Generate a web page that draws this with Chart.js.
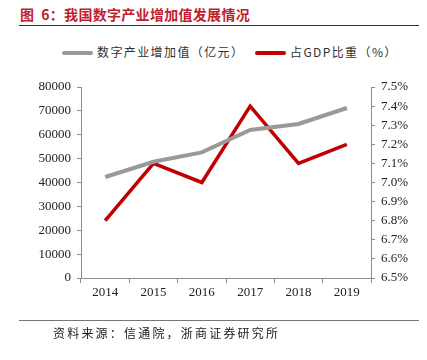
<!DOCTYPE html>
<html>
<head>
<meta charset="utf-8">
<script src="https://cdn.jsdelivr.net/npm/chart.js@4/dist/chart.umd.min.js"></script>
<style>
  html, body { margin: 0; padding: 0; background: #fff; }
  #wrap { position: relative; width: 427px; height: 360px; overflow: hidden; }
  #chart { position: absolute; left: 0; top: 0; }
  .title { position: absolute; left: 20px; top: 4px; font: bold 14px "Noto Sans CJK SC", sans-serif; color: #bf1e2e; letter-spacing: 0.3px; white-space: pre; }
  .rule { position: absolute; left: 19px; width: 400px; height: 1px; background: #333; }
  .rule.bottom { background: #777; }
  .source { position: absolute; left: 53px; top: 324px; font: 12px "Noto Sans CJK SC", sans-serif; color: #222; letter-spacing: 2.2px; }
  .legend { position: absolute; top: 43px; font: 12px "Noto Sans CJK SC", sans-serif; color: #333; letter-spacing: 1.4px; white-space: nowrap; }
  .legend i { display: inline-block; width: 31px; height: 4px; border-radius: 2px; vertical-align: middle; margin-right: 4px; position: relative; top: -1px; }
</style>
</head>
<body>
<div id="wrap">
  <div class="title">图  6：我国数字产业增加值发展情况</div>
  <div class="rule" style="top:25px"></div>
  <div class="legend" id="leg1" style="left:62px"><i></i><span></span></div>
  <div class="legend" id="leg2" style="left:255px"><i></i><span></span></div>
  <canvas id="chart" width="427" height="360"></canvas>
  <div class="rule bottom" style="top:320px"></div>
  <div class="source">资料来源：信通院，浙商证券研究所</div>
</div>
<script>
// chart data
const years = ['2014', '2015', '2016', '2017', '2018', '2019'];
const valueAdded = [42300, 48700, 52600, 62000, 64500, 71200];   // 数字产业增加值（亿元）
const gdpShare = [6.8, 7.1, 7.0, 7.4, 7.1, 7.2];                 // 占GDP比重（%）
const leftTicks = [0, 10000, 20000, 30000, 40000, 50000, 60000, 70000, 80000];
const rightTicks = [6.5, 6.6, 6.7, 6.8, 6.9, 7.0, 7.1, 7.2, 7.3, 7.4, 7.5];

const seriesNames = ['数字产业增加值（亿元）', '占GDP比重（%）'];
const seriesColors = ['#999999', '#c00000'];

// html legend, so it sits exactly where the report put it
['leg1', 'leg2'].forEach(function (id, i) {
    const el = document.getElementById(id);
    el.querySelector('i').style.background = seriesColors[i];
    el.querySelector('span').textContent = seriesNames[i];
});

const tickFont = { family: '"Liberation Serif", "Times New Roman", serif', size: 13 };
const axisGrey = '#8c8c8c';

function fixWidth(w) { return function (scale) { scale.width = w; }; }

new Chart(document.getElementById('chart').getContext('2d'), {
    type: 'line',
    data: {
        labels: years,
        datasets: [
            { label: seriesNames[0], data: valueAdded, yAxisID: 'y', borderColor: seriesColors[0], backgroundColor: seriesColors[0], borderWidth: 4, pointRadius: 0, tension: 0 },
            { label: seriesNames[1], data: gdpShare, yAxisID: 'y1', borderColor: seriesColors[1], backgroundColor: seriesColors[1], borderWidth: 3.5, pointRadius: 0, tension: 0 }
        ]
    },
    options: {
        responsive: false,
        animation: false,
        layout: { padding: { top: 87, bottom: 60, left: 0, right: 0 } },
        plugins: { legend: { display: false }, tooltip: { enabled: false } },
        scales: {
            x: {
                offset: true,
                grid: { display: true, offset: true, drawOnChartArea: false, drawTicks: true, tickLength: 5, color: axisGrey },
                border: { color: axisGrey, width: 1 },
                ticks: { font: tickFont, color: '#222', padding: 2, maxRotation: 0 },
                afterFit: function (scale) { scale.height = 22; }
            },
            y: {
                position: 'left',
                min: 0, max: 80000,
                afterBuildTicks: function (scale) { scale.ticks = leftTicks.map(v => ({ value: v })); },
                grid: { drawOnChartArea: false, drawTicks: true, tickLength: 4, color: axisGrey },
                border: { color: axisGrey, width: 1 },
                ticks: { font: tickFont, color: '#222', padding: 6, callback: v => String(v) },
                afterFit: fixWidth(81)
            },
            y1: {
                position: 'right',
                min: 6.5, max: 7.5,
                afterBuildTicks: function (scale) { scale.ticks = rightTicks.map(v => ({ value: v })); },
                grid: { drawOnChartArea: false, drawTicks: true, tickLength: 4, color: axisGrey },
                border: { color: axisGrey, width: 1 },
                ticks: { font: tickFont, color: '#222', padding: 6, callback: v => v.toFixed(1) + '%' },
                afterFit: fixWidth(56)
            }
        }
    }
});
</script>
</body>
</html>
